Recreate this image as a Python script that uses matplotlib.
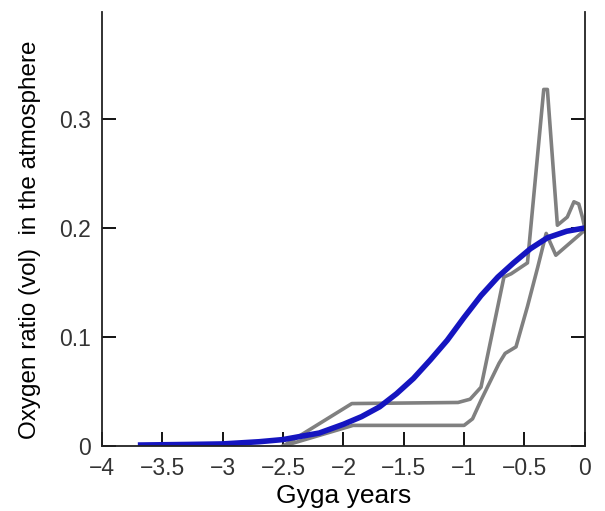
import matplotlib
matplotlib.use("Agg")
import matplotlib.pyplot as plt

plt.rcParams['font.family'] = ['Liberation Sans', 'DejaVu Sans']

# blue curve (model average)
blue_x = [-3.68, -3.3, -3.0, -2.7, -2.5, -2.2, -2.0, -1.85, -1.7, -1.56, -1.42, -1.28, -1.14, -1.0,
          -0.86, -0.72, -0.59, -0.45, -0.31, -0.15, 0.0]
blue_y = [0.001, 0.0015, 0.002, 0.004, 0.006, 0.012, 0.02, 0.027, 0.036, 0.048, 0.062, 0.079, 0.097, 0.118,
          0.138, 0.155, 0.168, 0.181, 0.191, 0.197, 0.2]

# gray curve A (plateau 0.04, big peak)
grayA_x = [-2.5, -1.93, -1.05, -0.95, -0.86, -0.67, -0.61, -0.475, -0.34, -0.31, -0.227, -0.145, -0.09, -0.05, -0.02, 0.0]
grayA_y = [0.0, 0.039, 0.040, 0.043, 0.054, 0.155, 0.158, 0.168, 0.327, 0.327, 0.2025, 0.21, 0.224, 0.222, 0.21, 0.2]

# gray curve B (plateau 0.02)
grayB_x = [-2.5, -1.92, -1.0, -0.93, -0.86, -0.71, -0.66, -0.57, -0.475, -0.39, -0.32, -0.24, 0.0]
grayB_y = [0.0, 0.019, 0.019, 0.025, 0.042, 0.076, 0.085, 0.091, 0.128, 0.164, 0.195, 0.175, 0.198]

fig = plt.figure(figsize=(6.05, 5.11), dpi=100)
ax = fig.add_axes([0.1686, 0.127, 0.798, 0.8495])

ax.plot(grayA_x, grayA_y, color="#808080", lw=2.6)
ax.plot(grayB_x, grayB_y, color="#808080", lw=2.6)
ax.plot(blue_x, blue_y, color="#1515c0", lw=4)

ax.set_xlim(-4, 0)
ax.set_ylim(0, 0.398)
ax.set_xticks([-4, -3.5, -3, -2.5, -2, -1.5, -1, -0.5, 0])
ax.set_xticklabels(["\u22124", "\u22123.5", "\u22123", "\u22122.5", "\u22122", "\u22121.5", "\u22121", "\u22120.5", "0"])
ax.set_yticks([0, 0.1, 0.2, 0.3])
ax.set_yticklabels(["0", "0.1", "0.2", "0.3"])
ax.spines['top'].set_visible(False)
for s in ['left', 'right', 'bottom']:
    ax.spines[s].set_linewidth(1.3)
    ax.spines[s].set_color("#222222")
ax.tick_params(direction="in", length=10, width=1.3, labelsize=16.5, labelcolor="#333333",
               right=True, pad=8)

ax.set_xlabel("Gyga years", fontsize=19, labelpad=3)
ax.set_ylabel("Oxygen ratio (vol)  in the atmosphere", fontsize=17.5)
ax.yaxis.set_label_coords(-0.126, 0.475)

plt.savefig("out.png", dpi=100)
